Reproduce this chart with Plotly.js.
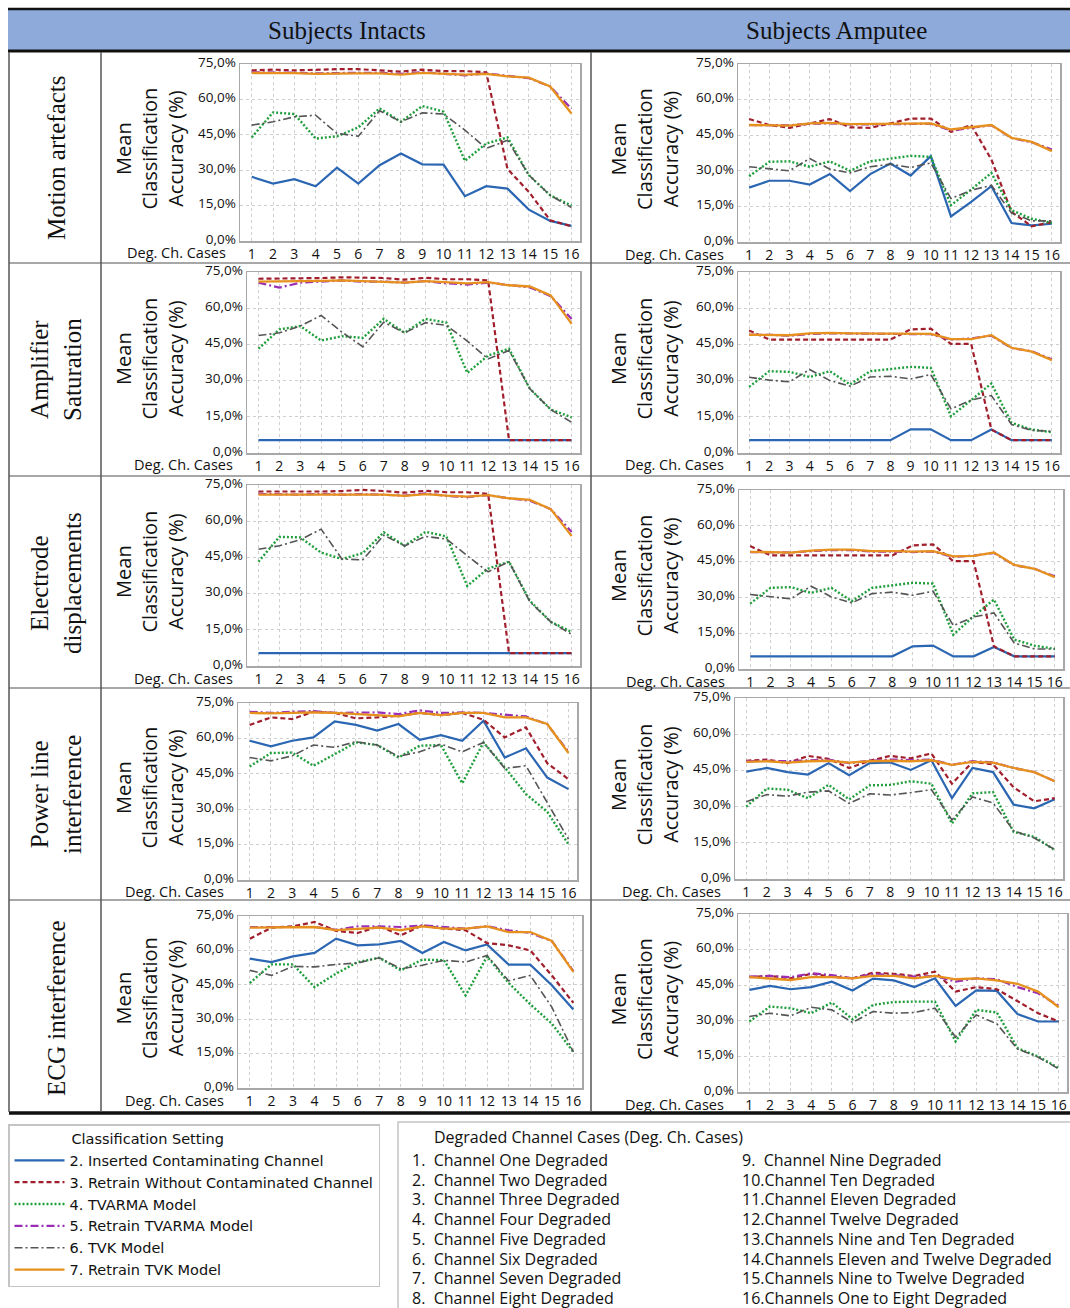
<!DOCTYPE html>
<html><head><meta charset="utf-8">
<script src="https://cdn.plot.ly/plotly-3.0.1.min.js"></script>
<style>html,body{margin:0;padding:0;background:#fff;}</style>
</head><body><div id="chart" style="width:1070px;height:1308px"></div>
<script>
// ---------------- DATA ----------------
const cases = [1,2,3,4,5,6,7,8,9,10,11,12,13,14,15,16];
const yTicks = [0,15,30,45,60,75];
const yTickText = ["0,0%","15,0%","30,0%","45,0%","60,0%","75,0%"];
const seriesNames = ["2. Inserted Contaminating Channel","3. Retrain Without Contaminated Channel","4. TVARMA Model","5. Retrain TVARMA Model","6. TVK Model","7. Retrain TVK Model"];
const colLabels = ["Subjects Intacts","Subjects Amputee"];
const rowLabels = ["Motion artefacts","Amplifier<br>Saturation","Electrode<br>displacements","Power line<br>interference","ECG interference"];
const xTitle = "Deg. Ch. Cases";
const yTitle = "Mean<br>Classification<br>Accuracy (%)";
const legendTitle = "Classification Setting";
const casesTitle = "Degraded Channel Cases (Deg. Ch. Cases)";
const caseNames = ["1.  Channel One Degraded","2.  Channel Two Degraded","3.  Channel Three Degraded","4.  Channel Four Degraded","5.  Channel Five Degraded","6.  Channel Six Degraded","7.  Channel Seven Degraded","8.  Channel Eight Degraded","9.  Channel Nine Degraded","10.Channel Ten Degraded","11.Channel Eleven Degraded","12.Channel Twelve Degraded","13.Channels Nine and Ten Degraded","14.Channels Eleven and Twelve Degraded","15.Channels Nine to Twelve Degraded","16.Channels One to Eight Degraded"];

// Motion artefacts - intact
const motInt_inserted = [27.2,24.3,26.2,23.2,31.1,24.3,32.1,37.1,32.5,32.4,19.0,23.2,22.2,13.3,8.5,6.4];
const motInt_retrain  = [72.3,72.6,72.3,72.6,72.8,72.8,72.4,71.8,72.6,72.0,72.0,71.5,30.5,20.8,8.8,6.2];
const motInt_tvarma   = [43.9,54.5,53.8,43.4,44.4,48.1,56.2,50.5,57.2,54.8,34.0,41.3,43.9,27.9,19.4,15.0];
const motInt_reTvarma = [71.5,71.5,71.3,71.0,71.3,71.3,71.3,70.8,71.5,71.0,70.2,71.0,70.0,69.0,65.5,56.0];
const motInt_tvk      = [49.1,50.5,52.6,53.3,45.6,44.4,55.2,50.5,54.3,53.8,47.0,39.2,42.7,27.9,19.4,14.2];
const motInt_reTvk    = [71.2,71.3,71.1,70.8,71.0,71.0,71.0,70.5,71.2,70.7,70.5,70.8,69.8,69.2,65.5,54.0];
// Motion artefacts - amputee
const motAmp_inserted = [22.9,25.8,25.8,24.2,28.6,21.5,28.6,33.1,28.0,36.2,10.8,16.9,23.5,8.0,7.0,7.7];
const motAmp_retrain  = [51.8,49.3,48.1,50.0,51.8,48.3,48.1,50.0,52.0,52.0,46.4,49.3,34.8,12.7,6.6,8.4];
const motAmp_tvarma   = [27.7,33.8,34.0,31.7,34.0,30.0,34.0,35.2,36.3,35.9,15.5,22.1,29.1,13.4,9.8,8.0];
const motAmp_reTvarma = [49.3,49.3,49.2,49.8,50.0,49.5,49.5,49.8,49.5,49.8,47.0,48.0,49.2,43.8,42.0,39.0];
const motAmp_tvk      = [31.7,30.7,30.0,35.2,30.7,29.1,31.7,32.8,31.4,33.3,18.3,21.8,23.9,12.2,8.9,8.9];
const motAmp_reTvk    = [49.3,49.3,49.0,50.0,50.2,49.7,49.7,49.9,49.7,50.0,47.4,48.3,49.3,43.9,42.2,38.3];
// Amplifier saturation - intact
const ampInt_inserted = [5.3,5.3,5.3,5.3,5.3,5.3,5.3,5.3,5.3,5.3,5.3,5.3,5.3,5.3,5.3,5.3];
const ampInt_retrain  = [72.2,72.2,72.2,72.5,72.8,72.8,72.5,71.8,72.6,72.0,72.0,71.5,5.3,5.3,5.3,5.3];
const ampInt_tvarma   = [43.2,51.2,52.6,46.6,48.4,47.7,55.6,49.8,55.6,54.0,33.2,40.4,43.2,26.6,18.0,14.8];
const ampInt_reTvarma = [70.6,68.5,70.6,71.2,71.5,71.0,71.0,70.6,71.2,70.3,69.8,70.6,69.7,68.6,65.0,55.5];
const ampInt_tvk      = [48.7,49.8,52.6,57.0,50.1,44.0,54.2,49.8,54.0,52.9,46.4,39.0,42.5,26.6,18.0,12.7];
const ampInt_reTvk    = [71.0,71.0,71.2,71.3,71.5,71.2,71.2,70.6,71.2,70.6,70.3,70.8,69.5,69.0,65.3,53.5];
// Amplifier saturation - amputee
const ampAmp_inserted = [5.3,5.3,5.3,5.3,5.3,5.3,5.3,5.3,9.8,9.8,5.3,5.3,9.7,5.3,5.3,5.3];
const ampAmp_retrain  = [50.8,47.0,47.0,47.0,47.2,47.2,47.0,47.0,51.2,51.5,45.2,45.2,9.7,5.3,5.3,5.3];
const ampAmp_tvarma   = [27.4,33.9,33.6,31.5,33.9,28.4,33.9,34.9,35.7,35.3,15.2,21.9,28.8,12.5,9.7,8.6];
const ampAmp_reTvarma = [49.0,49.0,48.6,49.3,49.6,49.5,49.3,49.5,49.2,49.2,47.0,47.5,48.6,43.5,42.2,38.8];
const ampAmp_tvk      = [31.4,30.2,29.5,34.6,30.0,27.7,31.5,31.8,30.7,32.5,18.3,21.9,23.8,11.8,9.4,9.0];
const ampAmp_reTvk    = [49.0,49.0,48.8,49.6,49.8,49.6,49.5,49.6,49.4,49.4,47.2,47.2,48.8,43.6,42.0,38.5];
// Electrode displacements - intact
const eleInt_inserted = [5.3,5.3,5.3,5.3,5.3,5.3,5.3,5.5,5.3,5.3,5.3,5.3,5.3,5.3,5.3,5.3];
const eleInt_retrain  = [72.3,72.3,72.0,72.3,72.5,73.0,72.5,71.8,72.6,72.0,72.0,71.3,5.3,5.3,5.3,5.3];
const eleInt_tvarma   = [43.2,53.5,53.3,47.0,44.3,46.8,55.4,49.8,55.6,53.7,33.2,40.4,43.2,27.0,18.3,14.1];
const eleInt_reTvarma = [71.3,71.2,71.0,71.3,71.0,71.2,71.0,70.6,71.5,70.5,70.0,70.8,69.5,68.5,65.0,55.5];
const eleInt_tvk      = [48.4,49.8,52.3,56.7,44.3,44.0,54.2,49.8,53.7,52.6,45.7,39.0,43.2,26.6,18.3,13.1];
const eleInt_reTvk    = [71.0,71.0,71.0,71.2,71.0,71.0,71.0,70.5,71.2,70.6,70.2,70.8,69.5,68.8,65.0,53.8];
// Electrode displacements - amputee
const eleAmp_inserted = [5.3,5.3,5.3,5.3,5.3,5.3,5.3,5.3,9.5,9.8,5.3,5.3,9.2,5.3,5.3,5.3];
const eleAmp_retrain  = [51.5,47.6,47.6,47.6,47.6,47.6,47.6,47.6,51.8,52.2,45.2,45.2,9.5,5.3,5.3,5.3];
const eleAmp_tvarma   = [27.4,34.0,34.3,31.9,34.0,28.4,34.0,35.0,36.1,35.8,14.4,22.1,29.1,12.3,9.8,8.4];
const eleAmp_reTvarma = [49.0,49.0,48.8,49.4,49.8,49.8,49.2,49.2,49.0,49.2,47.0,47.5,48.6,43.5,42.0,38.8];
const eleAmp_tvk      = [31.2,30.2,29.4,34.7,30.2,27.7,31.6,32.2,30.9,32.6,18.2,21.8,23.5,10.9,8.4,8.4];
const eleAmp_reTvk    = [49.1,49.1,48.8,49.6,50.0,50.0,49.4,49.4,49.2,49.4,47.2,47.4,48.8,43.6,42.0,38.5];
// Power line interference - intact
const powInt_inserted = [59.0,56.6,59.0,60.4,67.2,65.7,63.3,66.1,59.4,61.4,59.0,67.5,51.9,55.8,43.4,38.5];
const powInt_retrain  = [65.7,68.9,68.2,71.3,70.8,68.5,68.9,69.6,70.8,69.9,70.8,67.9,60.4,64.7,49.5,42.7];
const powInt_tvarma   = [48.1,53.8,54.0,48.4,53.3,58.3,57.2,51.9,56.9,57.2,41.0,58.3,47.7,36.4,28.9,15.1];
const powInt_reTvarma = [71.3,70.8,71.3,71.6,70.8,70.8,71.0,70.3,71.9,70.8,71.0,70.8,69.9,69.3,66.0,54.3];
const powInt_tvk      = [51.9,50.5,52.6,57.2,56.2,58.6,57.2,52.4,54.3,57.6,54.3,58.3,47.3,48.4,32.8,17.3];
const powInt_reTvk    = [70.8,70.6,70.8,71.0,70.8,70.3,69.9,69.3,70.8,69.9,70.8,70.8,68.9,68.9,66.1,53.8];
// Power line interference - amputee
const powAmp_inserted = [44.5,46.0,44.3,43.3,48.0,43.0,48.0,48.3,45.2,49.2,33.5,46.0,44.3,30.8,29.3,33.0];
const powAmp_retrain  = [49.0,49.5,48.0,51.0,49.8,46.0,49.0,51.0,50.0,52.0,39.5,48.5,47.5,38.0,32.2,33.5];
const powAmp_tvarma   = [30.0,37.5,37.0,33.5,39.0,33.0,38.8,39.0,40.5,39.5,23.0,35.5,36.0,19.5,17.5,12.0];
const powAmp_reTvarma = [48.8,49.0,48.8,49.3,49.5,48.0,49.0,49.5,49.3,49.5,47.3,48.8,48.3,46.0,44.3,40.5];
const powAmp_tvk      = [32.0,35.0,34.3,36.0,36.5,31.3,35.3,34.8,35.8,37.0,24.5,34.0,31.5,20.0,17.0,12.2];
const powAmp_reTvk    = [48.5,48.8,48.2,48.8,49.0,48.2,48.8,49.0,48.8,49.2,47.3,48.5,48.2,46.0,44.3,40.5];
// ECG interference - intact
const ecgInt_inserted = [56.4,54.9,57.4,58.9,65.1,62.2,62.6,64.1,58.9,63.7,60.0,62.6,53.8,53.8,44.8,34.2];
const ecgInt_retrain  = [65.1,69.9,70.5,72.4,68.5,67.6,70.5,66.6,70.9,69.5,68.8,63.2,62.2,60.0,49.1,37.1];
const ecgInt_tvarma   = [45.8,53.9,53.9,44.0,49.9,54.9,56.8,51.3,56.0,55.7,40.4,57.4,45.8,36.5,28.1,15.7];
const ecgInt_reTvarma = [70.2,70.2,70.2,70.2,69.0,70.5,70.5,70.2,70.9,70.2,69.5,70.5,68.8,67.6,64.1,51.0];
const ecgInt_tvk      = [51.3,49.1,53.0,52.8,53.9,54.5,56.8,52.0,53.5,55.7,54.9,57.8,46.7,49.1,35.3,15.7];
const ecgInt_reTvk    = [69.9,69.9,69.9,70.2,68.8,69.5,69.9,68.8,70.5,69.5,69.5,70.5,68.0,68.0,64.1,50.6];
// ECG interference - amputee
const ecgAmp_inserted = [43.0,44.7,43.3,44.2,46.5,42.8,47.8,47.0,44.2,47.9,36.3,42.8,42.6,32.8,29.7,29.7];
const ecgAmp_retrain  = [48.4,48.9,47.9,49.8,48.6,47.9,50.3,49.8,48.9,50.7,42.3,44.2,43.3,38.1,33.2,29.7];
const ecgAmp_tvarma   = [29.7,36.0,35.3,33.2,37.7,30.7,36.7,37.9,38.1,38.1,21.3,34.6,33.5,18.5,15.0,10.1];
const ecgAmp_reTvarma = [48.6,48.9,48.4,50.0,49.3,47.9,49.8,49.3,48.6,48.9,46.5,47.9,47.5,44.2,41.6,36.3];
const ecgAmp_tvk      = [31.8,33.2,32.1,35.7,34.6,29.3,33.9,33.2,33.5,35.3,23.1,32.5,28.7,18.1,14.7,9.7];
const ecgAmp_reTvk    = [48.4,47.9,47.2,48.4,48.4,47.9,48.9,48.9,47.9,48.9,47.5,47.9,47.0,45.6,42.3,35.7];

// ---------------- STYLE / LAYOUT ----------------
const W = 1070, H = 1308;
const SANS = "Open Sans, Noto Sans, sans-serif";
const LEGSANS = "DejaVu Sans, Open Sans, sans-serif";
const SERIF = "Liberation Serif, DejaVu Serif, serif";
const styles = [
  {color:'#2b66b3', dash:'solid', width:2.2},
  {color:'#a11f2c', dash:'5px,3px', width:2.2},
  {color:'#1f9e3c', dash:'2px,2px', width:2.4},
  {color:'#9a2fb5', dash:'8px,3px,2px,3px', width:2.2},
  {color:'#555555', dash:'8px,3px,2px,3px', width:1.6},
  {color:'#e6901d', dash:'solid', width:2.3}
];
// pixel boxes [left, right, top(75%), bottom(0%)]
const panelBoxes = [
  [240,580,64,241],[738,1060,64,242],
  [247,580,272,453],[738,1060,272,453],
  [247,580,485,666],[739,1063,490,669],
  [238,577,703,880],[735,1063,698,879],
  [238,582,916,1088],[738,1067,914,1092]
];
const panelSeries = [
  [motInt_inserted,motInt_retrain,motInt_tvarma,motInt_reTvarma,motInt_tvk,motInt_reTvk],
  [motAmp_inserted,motAmp_retrain,motAmp_tvarma,motAmp_reTvarma,motAmp_tvk,motAmp_reTvk],
  [ampInt_inserted,ampInt_retrain,ampInt_tvarma,ampInt_reTvarma,ampInt_tvk,ampInt_reTvk],
  [ampAmp_inserted,ampAmp_retrain,ampAmp_tvarma,ampAmp_reTvarma,ampAmp_tvk,ampAmp_reTvk],
  [eleInt_inserted,eleInt_retrain,eleInt_tvarma,eleInt_reTvarma,eleInt_tvk,eleInt_reTvk],
  [eleAmp_inserted,eleAmp_retrain,eleAmp_tvarma,eleAmp_reTvarma,eleAmp_tvk,eleAmp_reTvk],
  [powInt_inserted,powInt_retrain,powInt_tvarma,powInt_reTvarma,powInt_tvk,powInt_reTvk],
  [powAmp_inserted,powAmp_retrain,powAmp_tvarma,powAmp_reTvarma,powAmp_tvk,powAmp_reTvk],
  [ecgInt_inserted,ecgInt_retrain,ecgInt_tvarma,ecgInt_reTvarma,ecgInt_tvk,ecgInt_reTvk],
  [ecgAmp_inserted,ecgAmp_retrain,ecgAmp_tvarma,ecgAmp_reTvarma,ecgAmp_tvk,ecgAmp_reTvk]
];

const px = v => v / W;
const py = v => 1 - v / H;
const NB = '\u00a0';

const traces = [];
const layout = {
  width: W, height: H,
  margin: {l:0, r:0, t:0, b:0, pad:0},
  paper_bgcolor: '#ffffff', plot_bgcolor: '#ffffff',
  separators: ',.',
  font: {family: SANS, color: '#000'},
  hovermode: false,
  showlegend: true,
  legend: {
    x: px(8), y: py(1124), xanchor: 'left', yanchor: 'top',
    bgcolor: '#ffffff', bordercolor: '#c4c4c4', borderwidth: 1.5,
    font: {family: LEGSANS, size: 14.5, color: '#111'},
    title: {text: NB.repeat(13) + legendTitle, font: {family: LEGSANS, size: 14.5, color: '#111'}},
    itemwidth: 50, tracegroupgap: 0, traceorder: 'normal'
  },
  shapes: [], annotations: []
};

panelBoxes.forEach((b, i) => {
  const n = i + 1;
  const xk = 'xaxis' + (n === 1 ? '' : n), yk = 'yaxis' + (n === 1 ? '' : n);
  const xr = 'x' + (n === 1 ? '' : n), yr = 'y' + (n === 1 ? '' : n);
  layout[xk] = {
    domain: [px(b[0]), px(b[1])], anchor: yr, range: [0.45, 16.4],
    tickvals: cases, ticktext: cases.map(String), tickangle: 0,
    showgrid: true, gridcolor: '#cfcfcf', griddash: 'dot', gridwidth: 1,
    showline: true, mirror: true, linecolor: '#a8a8a8', linewidth: 1.5,
    zeroline: false, ticks: '', tickfont: {family: SANS, size: 14, color: '#111'}, fixedrange: true
  };
  layout[yk] = {
    domain: [py(b[3]), py(b[2])], anchor: xr, range: [0, 75],
    tickvals: yTicks, ticktext: yTickText, ticklabelshift: -2,
    showgrid: true, gridcolor: '#cfcfcf', griddash: 'dot', gridwidth: 1,
    showline: true, mirror: true, linecolor: '#a8a8a8', linewidth: 1.5,
    zeroline: false, ticks: '', tickfont: {family: SANS, size: 13.5, color: '#111'}, fixedrange: true
  };
  panelSeries[i].forEach((vals, s) => {
    traces.push({
      type: 'scatter', mode: 'lines', x: cases, y: vals,
      xaxis: xr, yaxis: yr, name: seriesNames[s],
      showlegend: i === 0, legendgroup: 's' + s,
      line: {color: styles[s].color, dash: styles[s].dash, width: styles[s].width}
    });
  });
  // y-axis title
  const colLeft = (i % 2 === 0);
  layout.annotations.push({
    xref: 'paper', yref: 'paper', x: px(colLeft ? 149 : 644), y: py((b[2] + b[3]) / 2 - 4),
    text: yTitle, textangle: -90, showarrow: false, xanchor: 'center', yanchor: 'middle',
    font: {family: SANS, size: 20, color: '#111'}
  });
  // x-axis label
  layout.annotations.push({
    xref: 'paper', yref: 'paper', x: px(b[0] - 12), y: py(b[3] + 12),
    text: xTitle, showarrow: false, xanchor: 'right', yanchor: 'middle',
    font: {family: SANS, size: 14.5, color: '#111'}
  });
});

// header band
layout.shapes.push({type:'rect', xref:'paper', yref:'paper', x0:px(8), x1:px(1070), y0:py(50), y1:py(9), fillcolor:'#8eaadb', line:{width:0}, layer:'below'});
layout.shapes.push({type:'line', xref:'paper', yref:'paper', x0:px(8), x1:px(1070), y0:py(9), y1:py(9), line:{color:'#111', width:2.5}});
layout.shapes.push({type:'line', xref:'paper', yref:'paper', x0:px(8), x1:px(1070), y0:py(51), y1:py(51), line:{color:'#111', width:3}});
// row separators
[263, 476, 688, 900].forEach(y => layout.shapes.push({type:'line', xref:'paper', yref:'paper', x0:px(9), x1:px(1070), y0:py(y), y1:py(y), line:{color:'#8a8a8a', width:1.5}}));
layout.shapes.push({type:'line', xref:'paper', yref:'paper', x0:px(9), x1:px(1070), y0:py(1113), y1:py(1113), line:{color:'#111', width:3.5}});
// vertical separators
[9, 101, 591].forEach(x => layout.shapes.push({type:'line', xref:'paper', yref:'paper', x0:px(x), x1:px(x), y0:py(52), y1:py(1112), line:{color:'#555', width:1.5}}));
// cases box
layout.shapes.push({type:'rect', xref:'paper', yref:'paper', x0:px(398), x1:px(1075), y0:py(1315), y1:py(1122), line:{color:'#c4c4c4', width:1.5}, fillcolor:'rgba(0,0,0,0)'});

// header texts
const colCenters = [347, 836];
colLabels.forEach((t, k) => layout.annotations.push({
  xref:'paper', yref:'paper', x:px(colCenters[k]), y:py(31), text:t, showarrow:false,
  xanchor:'center', yanchor:'middle', font:{family:SERIF, size:25, color:'#111'}
}));
// row labels
const rowCenters = [158, 370, 583, 795, 1008];
rowLabels.forEach((t, k) => layout.annotations.push({
  xref:'paper', yref:'paper', x:px(56), y:py(rowCenters[k]), text:t, textangle:-90, showarrow:false,
  xanchor:'center', yanchor:'middle', font:{family:SERIF, size:25, color:'#111'}
}));
// cases box texts
layout.annotations.push({xref:'paper', yref:'paper', x:px(432), y:py(1137), text:casesTitle, showarrow:false, xanchor:'left', yanchor:'middle', font:{family:SANS, size:16, color:'#111'}});
caseNames.forEach((t, k) => layout.annotations.push({
  xref:'paper', yref:'paper', x:px(k < 8 ? 410 : 740), y:py(1160 + 19.7 * (k % 8)), text:t, showarrow:false,
  xanchor:'left', yanchor:'middle', font:{family:SANS, size:16, color:'#111'}
}));

Plotly.newPlot('chart', traces, layout, {staticPlot:true, displayModeBar:false});
</script>
</body></html>
